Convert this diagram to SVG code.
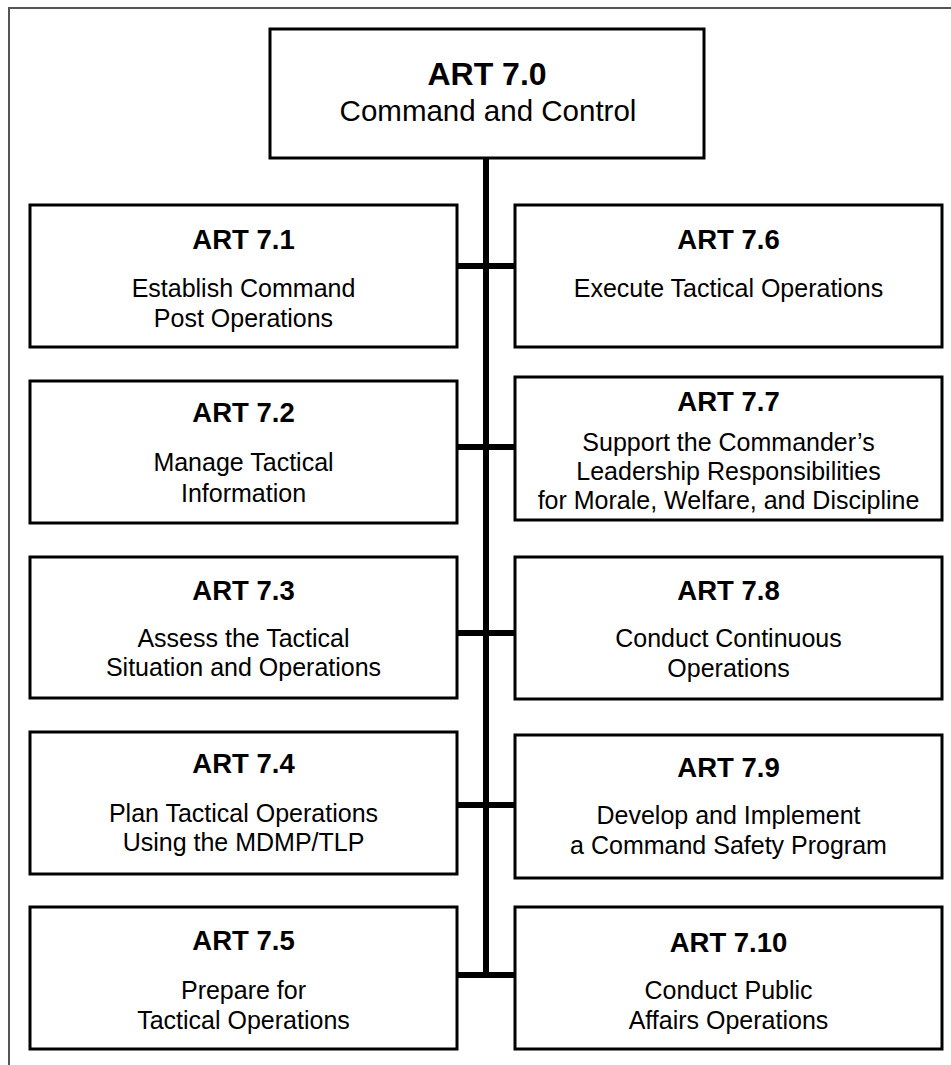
<svg xmlns="http://www.w3.org/2000/svg" width="951" height="1065" viewBox="0 0 951 1065">
<style>
.box{fill:#fff;stroke:#000;stroke-width:3}
.frame{fill:none;stroke:#555;stroke-width:2}
.con{stroke:#000;stroke-width:6;fill:none}
.b{font-family:"Liberation Sans",Arial,sans-serif;font-weight:bold;font-size:27.5px;text-anchor:middle;fill:#000}
.r{font-family:"Liberation Sans",Arial,sans-serif;font-size:25px;text-anchor:middle;fill:#000}
</style>
<rect width="951" height="1065" fill="#fff"/>
<path class="frame" d="M9,1065 V8 H951"/>
<g id="connectors">
<line class="con" x1="486" y1="158" x2="486" y2="978"/>
<line class="con" x1="457" y1="266" x2="515" y2="266"/>
<line class="con" x1="457" y1="447" x2="515" y2="447"/>
<line class="con" x1="457" y1="633" x2="515" y2="633"/>
<line class="con" x1="457" y1="805" x2="515" y2="805"/>
<line class="con" x1="457" y1="975" x2="515" y2="975"/>
</g>
<g id="art70">
<rect class="box" x="270" y="29" width="434" height="129"/>
<text class="b" x="487" y="85" style="font-size:32px">ART 7.0</text>
<text class="r" x="488" y="121" style="font-size:29.5px">Command and Control</text>
</g>
<g id="art71">
<rect class="box" x="30" y="205" width="427" height="142"/>
<text class="b" x="243.5" y="249">ART 7.1</text>
<text class="r" x="243.5" y="297">Establish Command</text>
<text class="r" x="243.5" y="327">Post Operations</text>
</g>
<g id="art76">
<rect class="box" x="515" y="205" width="427" height="142"/>
<text class="b" x="728.5" y="249">ART 7.6</text>
<text class="r" x="728.5" y="297">Execute Tactical Operations</text>
</g>
<g id="art72">
<rect class="box" x="30" y="381" width="427" height="142"/>
<text class="b" x="243.5" y="422">ART 7.2</text>
<text class="r" x="243.5" y="471">Manage Tactical</text>
<text class="r" x="243.5" y="502">Information</text>
</g>
<g id="art77">
<rect class="box" x="515" y="377" width="427" height="143"/>
<text class="b" x="728.5" y="411">ART 7.7</text>
<text class="r" x="728.5" y="451">Support the Commander’s</text>
<text class="r" x="728.5" y="480">Leadership Responsibilities</text>
<text class="r" x="728.5" y="509">for Morale, Welfare, and Discipline</text>
</g>
<g id="art73">
<rect class="box" x="30" y="557" width="427" height="141"/>
<text class="b" x="243.5" y="600">ART 7.3</text>
<text class="r" x="243.5" y="647">Assess the Tactical</text>
<text class="r" x="243.5" y="676">Situation and Operations</text>
</g>
<g id="art78">
<rect class="box" x="515" y="557" width="427" height="142"/>
<text class="b" x="728.5" y="600">ART 7.8</text>
<text class="r" x="728.5" y="647">Conduct Continuous</text>
<text class="r" x="728.5" y="677">Operations</text>
</g>
<g id="art74">
<rect class="box" x="30" y="732" width="427" height="142"/>
<text class="b" x="243.5" y="773">ART 7.4</text>
<text class="r" x="243.5" y="822">Plan Tactical Operations</text>
<text class="r" x="243.5" y="851">Using the MDMP/TLP</text>
</g>
<g id="art79">
<rect class="box" x="515" y="735" width="427" height="143"/>
<text class="b" x="728.5" y="777">ART 7.9</text>
<text class="r" x="728.5" y="824">Develop and Implement</text>
<text class="r" x="728.5" y="854">a Command Safety Program</text>
</g>
<g id="art75">
<rect class="box" x="30" y="907" width="427" height="142"/>
<text class="b" x="243.5" y="950">ART 7.5</text>
<text class="r" x="243.5" y="999">Prepare for</text>
<text class="r" x="243.5" y="1029">Tactical Operations</text>
</g>
<g id="art710">
<rect class="box" x="515" y="907" width="427" height="142"/>
<text class="b" x="728.5" y="952">ART 7.10</text>
<text class="r" x="728.5" y="999">Conduct Public</text>
<text class="r" x="728.5" y="1029">Affairs Operations</text>
</g>
</svg>
